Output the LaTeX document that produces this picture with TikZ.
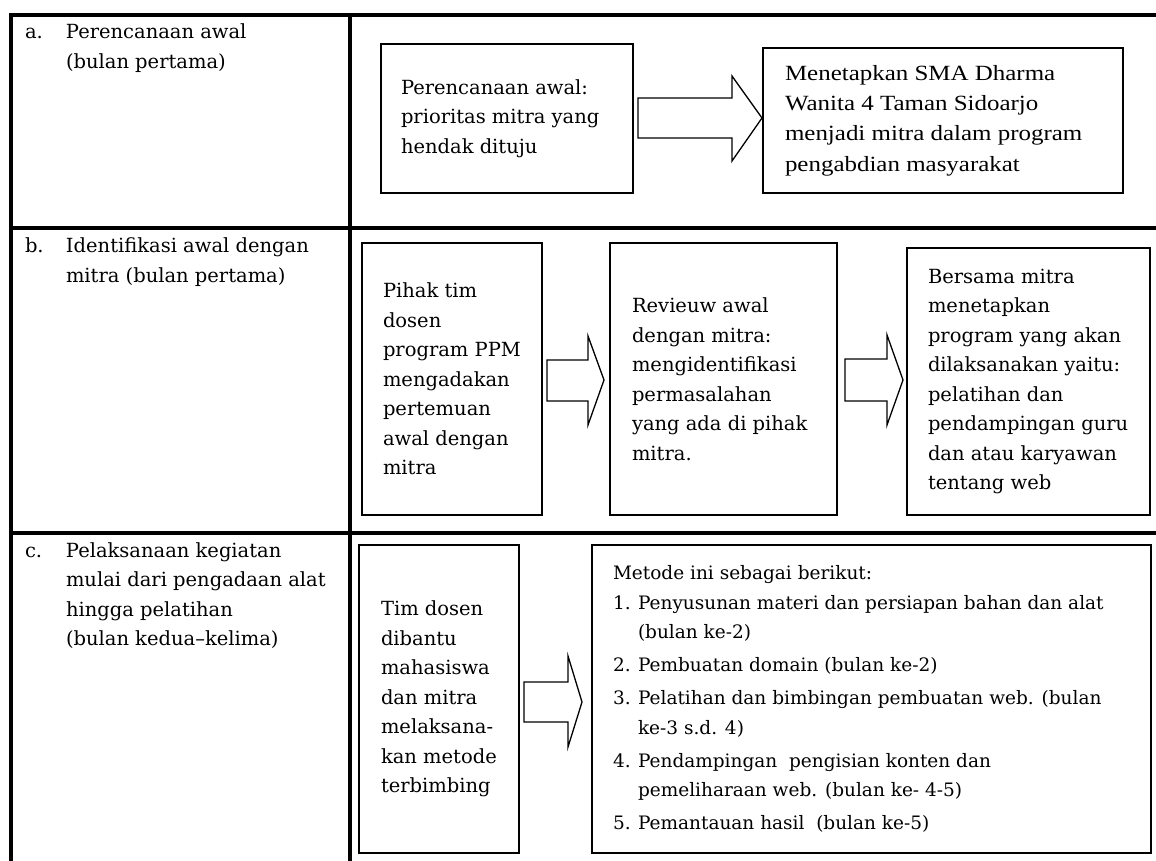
\documentclass[tikz,border=0pt]{standalone}
\usepackage{fontspec}
\setmainfont{DejaVu Serif}
\newfontfamily\tnrfont{Liberation Serif}[FakeStretch=1.15]
\newcommand\fmain{\fontsize{19.5}{29.5}\selectfont}
\newcommand\flist{\fontsize{18.5}{29.5}\selectfont}
\newcommand\ftnr{\tnrfont\fontsize{21.7}{30.3}\selectfont}
\newcommand\lbl[1]{\makebox[41pt][l]{#1}}
\newcommand\num[1]{\makebox[25pt][l]{#1}}
\begin{document}
\begin{tikzpicture}[x=1pt,y=-1pt,
  tbl/.style={line width=3.8pt},
  box/.style={draw, line width=1.3pt, rectangle, inner sep=0pt, outer sep=0pt, anchor=north west},
  txt/.style={inner sep=0pt, outer sep=0pt, align=left, anchor=west, font=\fmain},
  blockarrow/.style={draw, line width=1.3pt, fill=white, line join=miter}
]
\useasboundingbox (0,0) rectangle (1156,861);

% table rules
\draw[tbl] (9.4,14.7) -- (1156,14.7);
\draw[tbl] (11.3,12.8) -- (11.3,861);
\draw[tbl] (349.7,14.7) -- (349.7,861);
\draw[tbl] (11.3,228) -- (1156,228);
\draw[tbl] (11.3,533) -- (1156,533);

% left column labels
\node[txt] (LA) at (25,48) {\lbl{a.}Perencanaan awal\\\lbl{}(bulan pertama)};
\node[txt] (LB) at (25,262) {\lbl{b.}Identifikasi awal dengan\\\lbl{}mitra (bulan pertama)};
\node[txt] (LC) at (25,595.5) {\lbl{c.}Pelaksanaan kegiatan\\\lbl{}mulai dari pengadaan alat\\\lbl{}hingga pelatihan\\\lbl{}(bulan kedua--kelima)};

% row a
\node[box, minimum width=252pt, minimum height=149pt] (A1) at (381,44) {};
\node[txt] (A1t) at ([xshift=20pt]A1.west) {Perencanaan awal:\\prioritas mitra yang\\hendak dituju};
\node[box, minimum width=360pt, minimum height=145pt] (A2) at (763,48) {};
\node[txt, font=\ftnr] (A2t) at ([xshift=22pt]A2.west) {Menetapkan SMA Dharma\\Wanita 4 Taman Sidoarjo\\menjadi mitra dalam program\\pengabdian masyarakat};
\draw[blockarrow] (638,98) -- (732,98) -- (732,76) -- (762,118) -- (732,161) -- (732,138) -- (638,138) -- cycle;

% row b
\node[box, minimum width=180pt, minimum height=272pt] (B1) at (362,243) {};
\node[txt] (B1t) at ([xshift=21pt]B1.west) {Pihak tim\\dosen\\program PPM\\mengadakan\\pertemuan\\awal dengan\\mitra};
\node[box, minimum width=227pt, minimum height=272pt] (B2) at (610,243) {};
\node[txt] (B2t) at ([xshift=22pt]B2.west) {Revieuw awal\\dengan mitra:\\mengidentifikasi\\permasalahan\\yang ada di pihak\\mitra.};
\node[box, minimum width=243pt, minimum height=267pt] (B3) at (907,248) {};
\node[txt] (B3t) at ([xshift=21pt]B3.west) {Bersama mitra\\menetapkan\\program yang akan\\dilaksanakan yaitu:\\pelatihan dan\\pendampingan guru\\dan atau karyawan\\tentang web};
\draw[blockarrow] (547,360) -- (588,360) -- (588,336) -- (604,380) -- (588,425) -- (588,401) -- (547,401) -- cycle;
\draw[blockarrow] (845,359) -- (887,359) -- (887,335) -- (903,380) -- (887,425) -- (887,401) -- (845,401) -- cycle;

% row c
\node[box, minimum width=160pt, minimum height=308pt] (C1) at (359,545) {};
\node[txt] (C1t) at ([xshift=22pt]C1.west) {Tim dosen\\dibantu\\mahasiswa\\dan mitra\\melaksana-\\kan metode\\terbimbing};
\node[box, minimum width=559pt, minimum height=308pt] (C2) at (592,545) {};
\node[txt, font=\flist] (C2t) at ([xshift=21pt]C2.west) {Metode ini sebagai berikut:\\
\num{1.}Penyusunan materi dan persiapan bahan dan alat\\
\num{}(bulan ke-2)\\[3.5pt]
\num{2.}Pembuatan domain (bulan ke-2)\\[3.5pt]
\num{3.}Pelatihan dan bimbingan pembuatan web. (bulan\\
\num{}ke-3 s.d. 4)\\[3.5pt]
\num{4.}Pendampingan\ \ pengisian konten dan\\
\num{}pemeliharaan web. (bulan ke-\ 4-5)\\[3.5pt]
\num{5.}Pemantauan hasil\ \ (bulan ke-5)};
\draw[blockarrow] (524,682) -- (568,682) -- (568,656) -- (582,702) -- (568,747) -- (568,722) -- (524,722) -- cycle;
\end{tikzpicture}
\end{document}
